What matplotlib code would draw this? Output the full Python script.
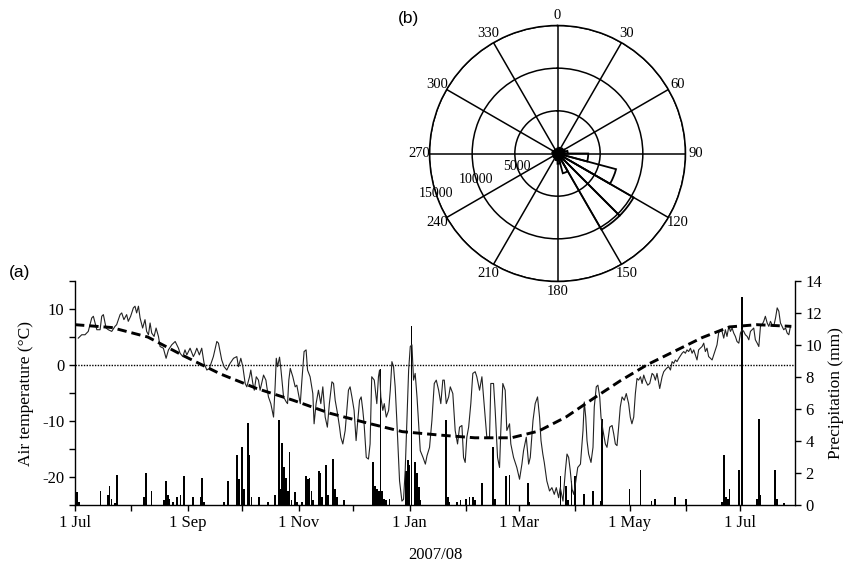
import numpy as np
import matplotlib
matplotlib.use("Agg")
import matplotlib.pyplot as plt
import matplotlib.dates as mdates
from matplotlib.ticker import MultipleLocator, FuncFormatter

plt.rcParams['font.family'] = ['Liberation Serif', 'DejaVu Serif']
plt.rcParams['axes.unicode_minus'] = False

# ---------------- data ----------------
start_date = np.datetime64('2007-07-01T00:00')

# air temperature trace (days since 1 Jul 2007, degC)
temp_day = [1.8, 3.7, 5.5, 7.3, 9.2, 10.1, 12.0, 13.8, 14.7, 15.6, 17.1, 18.3, 20.2, 22.0, 22.9,
            24.8, 25.7, 26.9, 28.4, 29.3, 30.6, 32.1, 33.0, 33.9, 34.9, 35.8, 37.2, 38.5, 39.4,
            40.4, 41.3, 42.2, 43.5, 44.6, 45.9, 46.8, 48.6, 50.1, 51.4, 53.2, 55.1, 56.9, 57.8,
            59.3, 60.5, 61.5, 63.3, 65.1, 66.0, 67.0, 68.4, 69.7, 71.0, 72.5, 73.9, 76.1, 78.0,
            78.9, 80.7, 82.0, 83.5, 85.3, 87.2, 89.0, 89.9, 91.2, 92.3, 93.6, 94.5, 96.0, 96.7,
            97.8, 98.6, 99.7, 100.9, 101.8, 103.7, 105.0, 105.5, 106.4, 107.7, 109.2, 110.1,
            110.7, 111.4, 112.5, 113.3, 114.7, 116.2, 116.9, 117.6, 118.4, 119.8, 121.1, 122.0,
            123.9,
            124.8, 126.0, 127.1, 127.9, 129.3, 130.8, 131.5, 132.6, 133.9, 135.2, 136.3, 137.6,
            138.8, 139.9, 141.3, 142.2, 143.1, 144.4, 145.5, 146.2, 147.3, 148.6, 150.4, 151.3,
            152.3, 153.5, 154.6, 155.4, 156.5, 157.4, 158.3, 159.0, 160.2, 161.4, 162.3, 163.2,
            164.6, 166.0, 166.9, 167.5, 168.2, 169.3, 170.1, 171.2, 172.5, 173.4, 174.3, 175.2,
            176.1, 177.0, 178.5, 179.8, 180.7, 181.6, 182.5, 183.5, 184.4, 185.3, 186.2, 187.1,
            188.1, 189.0, 189.9, 191.4, 192.7, 193.6, 195.0, 196.3, 197.6, 198.7, 200.0, 201.2,
            202.3, 203.1, 204.2, 205.5, 206.4, 207.8, 209.1, 210.4, 211.5, 212.8, 213.7, 214.6,
            215.5, 216.5, 217.7, 218.8, 220.1, 221.0, 222.5, 223.8, 225.0, 226.5, 228.0, 228.7,
            230.2, 231.1, 232.4, 233.5, 234.2, 235.3, 236.6, 237.5, 239.0, 239.7, 241.2, 243.0,
            244.5, 245.8, 246.7, 248.2, 249.5, 250.4, 251.9, 253.1, 254.4, 255.5, 256.3, 257.3,
            258.1, 259.5, 261.0, 262.3, 263.6, 264.7, 266.0, 266.9, 268.4, 269.7, 270.6, 271.5,
            272.4, 273.4, 274.3, 275.2, 276.5, 278.0,
            279.4, 280.1, 280.9, 281.6, 282.5, 283.8, 284.9, 285.6, 286.7, 287.6, 288.6, 289.3,
            290.4, 291.7, 292.6, 294.1, 295.4, 296.3, 297.2, 298.1, 299.0, 299.9, 300.9, 302.1,
            303.2, 304.5, 305.4, 306.3, 307.3, 308.2, 309.1, 310.0, 311.0, 311.9, 312.8, 313.7,
            315.0, 316.1, 317.4, 318.3, 319.2, 320.1, 321.6, 322.9, 323.8, 325.3, 326.5, 327.5,
            328.4, 329.3, 330.2, 331.1, 332.1,
            333.9, 334.8, 335.7, 336.6, 337.5, 338.5, 339.4, 340.3, 341.2, 342.1, 343.0, 343.9,
            344.9, 345.8, 346.7, 347.6, 348.5, 349.5, 350.4, 351.3, 352.2, 353.1, 354.0, 355.0,
            355.9, 356.8, 357.7, 358.6, 359.6, 360.5, 361.4, 362.3, 363.2, 364.1, 365.1, 366.0,
            366.9, 367.8, 368.7, 369.7, 370.6, 371.5, 372.4, 373.3, 374.2, 375.2, 376.1, 377.0,
            377.9, 378.8, 379.7, 380.7, 381.6, 382.5, 383.4, 384.3, 385.3, 386.2, 387.1, 388.0,
            388.9, 389.8, 390.8, 391.7, 392.6, 393.5]
temp_c = [4.8, 5.4, 5.4, 6.0, 8.4, 8.7, 6.3, 6.3, 8.7, 9.0, 6.6, 6.3, 6.0, 6.9, 7.2,
          9.0, 9.3, 8.1, 9.0, 7.8, 8.7, 10.2, 10.5, 9.3, 10.5, 8.4, 6.6, 8.1, 6.0,
          5.4, 7.5, 5.7, 5.1, 6.6, 5.1, 3.3, 3.0, 1.2, 2.7, 3.6, 4.2, 3.0, 2.1,
          1.5, 2.7, 1.8, 3.0, 1.5, 2.1, 3.0, 1.8, 3.0, 0.3, -0.9, -0.6, 1.5, 4.2,
          3.9, 0.9, -0.3, -0.9, 0.3, 1.2, 1.5, -0.3, 1.2, -0.3, -3.3, -3.9, -2.1, -0.9,
          -3.3, -4.5, -2.1, -2.7, -4.5, -1.8, -2.7, -3.9, -5.7, -6.9, -9.3, -3.6,
          1.2, -0.3, 1.4, -0.9, -5.7, -6.6, -6.9, -2.7, -0.6, -2.1, -3.9, -3.6,
          -6.9,
          -2.7, 2.4, 2.7, -0.9, -2.1, -5.1, -10.5, -6.9, -4.5, -6.9, -3.9, -9.3,
          -11.1, -6.9, -3.0, -3.3, -6.3, -8.7, -11.1, -12.9, -14.1, -11.7, -4.5, -3.9,
          -5.7, -8.1, -13.5, -10.5, -6.3, -5.7, -8.1, -10.5, -16.5, -16.8, -14.1, -2.1,
          -2.7, -6.9, -2.1, -0.9, -5.7, -8.1, -6.9, -9.3, -8.1, -4.5, 0.6, -0.3,
          -3.9, -9.9, -20.7, -24.3, -24.0, -18.9, -10.5, -0.9, 3.3, 3.6, -2.7, -1.5,
          -5.7, -10.5, -15.3, -16.5, -17.7, -16.2, -14.7, -9.9, -3.3, -2.7, -4.5, -6.9,
          -2.7, -2.7, -6.9, -5.7, -3.9, -5.1, -11.7, -14.1, -11.1, -10.8, -16.5, -17.4,
          -12.9, -11.1, -6.9, -1.5, -1.2, -2.1, -4.5, -2.1, -6.9, -12.9, -12.9, -3.3,
          -3.3, -8.1, -16.5, -18.3, -11.7, -3.3, -4.5, -11.7, -10.5, -14.1, -16.5, -18.3,
          -20.4, -17.7, -15.3, -12.9, -17.7, -16.5, -9.9, -6.9, -5.7, -9.3, -13.5, -15.9,
          -17.4, -20.7, -22.5, -21.9, -23.1, -21.9, -23.7, -21.9, -24.3, -18.9, -15.9, -16.5,
          -18.9, -22.2, -23.1, -21.3, -18.3, -17.7,
          -11.7, -6.6, -9.3, -13.5, -15.9, -17.4, -14.7, -7.5, -3.9, -3.6, -5.7, -9.3,
          -11.7, -14.1, -14.7, -11.1, -10.8, -12.3, -14.1, -14.4, -11.1, -7.5, -5.7, -6.3,
          -5.1, -6.9, -9.3, -10.5, -9.3, -5.1, -2.4, -2.7, -2.1, -3.3, -1.8, -2.7,
          -3.6, -3.3, -1.5, -1.8, -2.7, -1.5, -4.2, -2.1, -1.2, -0.6, -0.3, -0.9,
          0.6, 0.3, 0.9, 0.6, 1.2,
          2.1, 2.4, 2.1, 2.7, 2.4, 3.0, 2.1, 2.7, 1.8, 0.9, 2.7, 3.0,
          3.3, 3.9, 2.4, 3.0, 1.5, 1.2, 0.9, 1.8, 2.7, 3.6, 5.7, 6.3,
          6.0, 4.8, 6.3, 5.1, 6.9, 6.0, 6.6, 5.7, 5.1, 4.2, 3.9, 5.7,
          6.3, 6.0, 5.4, 5.1, 4.5, 6.0, 6.3, 6.6, 4.5, 3.9, 3.3, 6.9,
          7.2, 7.8, 8.7, 7.5, 6.9, 7.8, 7.2, 6.9, 8.4, 10.2, 9.6, 7.5,
          6.9, 6.3, 6.6, 5.7, 5.4, 6.9]

# fitted seasonal temperature curve (dashed)
clim_day = [0, 20, 40, 60, 80, 100, 120, 140, 160, 180, 200, 220, 240, 255, 270, 285,
            300, 315, 330, 345, 360, 375, 394]
clim_temp = [7.2, 6.7, 5.0, 1.6, -1.6, -4.2, -6.3, -8.6, -10.3, -11.9, -12.5, -13.0, -13.0,
             -11.8, -9.3, -6.0, -2.8, 0.1, 2.5, 4.9, 6.8, 7.2, 6.9]

# daily precipitation (days since 1 Jul 2007, mm)
precip_day = [1, 2, 14, 18, 19, 20, 22, 23, 38, 39, 42, 49, 50, 51, 52, 54, 56, 58, 60, 65,
              69, 70, 71, 82, 84, 89, 90, 92, 93, 95, 96, 97, 101, 106, 110, 112, 113, 114,
              115, 116, 117, 118, 119, 121, 122, 125, 127, 128, 129, 130, 131, 134, 135, 136,
              138, 139, 142, 143, 144, 148, 164, 165, 166, 167, 168, 169, 170, 171, 173, 182,
              183, 184, 185, 187, 188, 189, 190, 204, 205, 206, 210, 212, 215, 217, 219, 220,
              224, 230, 231, 237, 239, 249, 250, 267, 270, 271, 273, 275, 280, 285, 289, 290,
              305, 311, 317, 319, 330, 336, 356, 357, 358, 359, 360, 365, 367, 375, 376, 377,
              385, 386, 390]
precip_mm = [0.8, 0.2, 0.9, 0.6, 1.2, 0.35, 0.1, 1.9, 0.5, 2.0, 0.9, 0.3, 1.5, 0.6, 0.4, 0.2,
             0.5, 0.6, 1.8, 0.5, 0.5, 1.7, 0.2, 0.2, 1.5, 3.1, 1.6, 3.6, 1.0, 5.1, 3.1, 0.5,
             0.5, 0.2, 0.6, 5.3, 1.0, 3.9, 2.4, 1.7, 0.9, 3.3, 0.3, 0.8, 0.2, 0.2, 1.8, 1.6,
             1.7, 0.9, 0.3, 2.1, 2.0, 0.5, 2.5, 0.6, 2.9, 1.0, 0.5, 0.3, 2.7, 1.2, 1.0, 0.9,
             8.5, 0.9, 0.4, 0.3, 0.4, 2.1, 2.8, 2.5, 11.2, 2.7, 2.0, 1.1, 0.3, 5.3, 0.5, 0.2,
             0.2, 0.3, 0.4, 0.5, 0.5, 0.3, 1.4, 3.6, 0.4, 1.8, 1.9, 1.4, 0.2, 1.8, 1.2, 0.3,
             1.5, 1.8, 0.7, 0.9, 0.25, 5.4, 1.0, 2.2, 0.25, 0.4, 0.5, 0.4, 0.2, 3.1, 0.5, 0.4,
             1.0, 2.2, 13.0, 0.4, 5.35, 0.6, 2.2, 0.35, 0.1]

# wind rose (b): 15-degree direction bins, counts
wind_dir_start = [0, 15, 30, 45, 60, 75, 90, 105, 120, 135, 150, 165,
                  180, 195, 210, 225, 240, 255, 270, 285, 300, 315, 330, 345]
wind_count = [600, 700, 700, 800, 900, 1200, 3600, 7100, 10300, 10300, 2400, 1200,
              800, 600, 600, 600, 500, 500, 600, 600, 500, 500, 500, 500]
rose_rings = [5000, 10000, 15000]
rose_angles = [0, 30, 60, 90, 120, 150, 180, 210, 240, 270, 300, 330]

x_end_day = 396

# ---------------- figure ----------------
fig = plt.figure(figsize=(8.47, 5.67), dpi=100)

def to_dates(days):
    return start_date + (np.asarray(days) * 24 * 60).astype('timedelta64[m]')

ax = fig.add_axes([75 / 847, 62 / 567, 720 / 847, 224 / 567])
ax.patch.set_alpha(0)
ax2 = ax.twinx()

x0 = to_dates([0])[0]
x1 = to_dates([x_end_day])[0]

ax2.bar(to_dates(precip_day), precip_mm, width=0.95, color='black', align='center', zorder=1)
ax.axhline(0, color='black', lw=1.0, linestyle=(0, (1, 1)), zorder=2)
ax.plot(to_dates(temp_day), temp_c, color='#222222', lw=0.8, zorder=3)
ax.plot(to_dates(clim_day), clim_temp, color='black', lw=2.1, linestyle=(0, (3.2, 1.7)), zorder=4)
ax.set_zorder(2)
ax2.set_zorder(1)

ax.set_xlim(x0, x1)
ax.set_ylim(-25, 15)
ax2.set_ylim(0, 14)

ax.xaxis.set_major_locator(mdates.MonthLocator(bymonth=[1, 3, 5, 7, 9, 11]))
ax.xaxis.set_minor_locator(mdates.MonthLocator())
ax.xaxis.set_major_formatter(FuncFormatter(lambda v, p: "1 " + mdates.num2date(v).strftime('%b')))
ax.yaxis.set_major_locator(MultipleLocator(10))
ax.yaxis.set_minor_locator(MultipleLocator(5))
ax2.yaxis.set_major_locator(MultipleLocator(2))

for a in (ax, ax2):
    a.spines['top'].set_visible(False)
    for s in a.spines.values():
        s.set_linewidth(1.0)
ax.spines['right'].set_visible(False)
ax2.spines['left'].set_visible(False)
ax2.spines['bottom'].set_visible(False)

ax.tick_params(axis='both', which='both', direction='out', length=4, width=1.0,
               labelsize=12)
ax.tick_params(axis='y', which='minor', length=4)
ax2.tick_params(axis='y', direction='out', length=4, width=1.0, labelsize=12)

ax.set_ylabel('Air temperature (°C)', fontsize=12.5, labelpad=6)
ax2.set_ylabel('Precipitation (mm)', fontsize=12.5, labelpad=4)
ax.set_xlabel('2007/08', fontsize=12, labelpad=11)

fig.text(20 / 847, 1 - 273 / 567, '(a)', fontsize=12.5, family='Liberation Sans',
         ha='center', va='center')
fig.text(408 / 847, 1 - 18 / 567, '(b)', fontsize=12.5, family='Liberation Sans',
         ha='center', va='center')

# ---------------- wind rose ----------------
pax = fig.add_axes([429.5 / 847, (567 - 281.5) / 567, 256 / 847, 256 / 567], projection='polar')
pax.set_theta_zero_location('N')
pax.set_theta_direction(-1)
pax.bar(np.deg2rad(wind_dir_start), wind_count, width=np.deg2rad(15), align='edge',
        fill=False, edgecolor='black', lw=1.3, zorder=5)
pax.set_ylim(0, rose_rings[-1])
pax.set_rgrids(rose_rings, labels=['' for r in rose_rings])
pax.set_thetagrids(rose_angles, labels=[str(a) for a in rose_angles], fontsize=10.5)
pax.grid(True, color='black', lw=1.1, linestyle='-')
pax.spines['polar'].set_linewidth(1.1)
pax.tick_params(axis='x', pad=-3)
for r in rose_rings:
    pax.text(np.deg2rad(252), r, str(r), ha='center', va='center', fontsize=10,
             zorder=6, clip_on=False)

fig.savefig('out.png', dpi=100)
